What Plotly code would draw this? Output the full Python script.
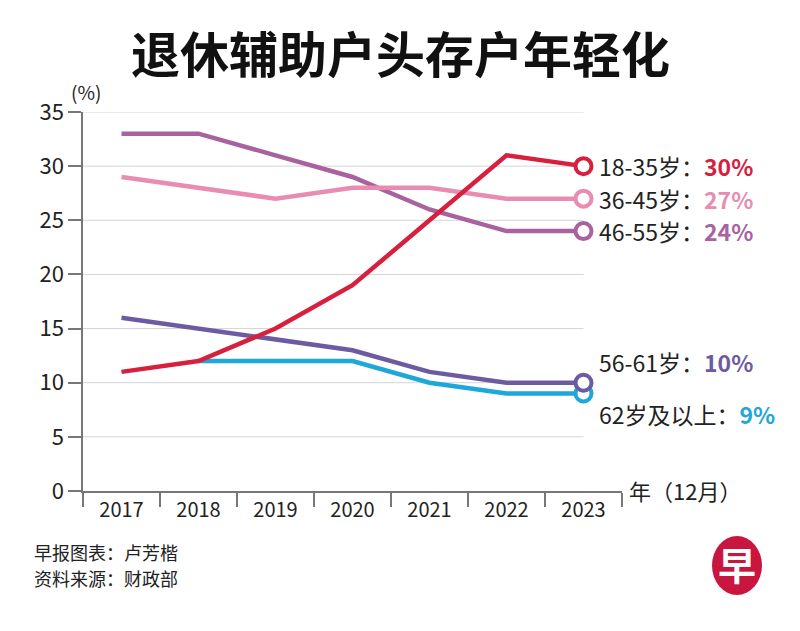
import plotly.graph_objects as go

years = ["2017", "2018", "2019", "2020", "2021", "2022", "2023"]
age_18_35 = [11, 12, 15, 19, 25, 31, 30]
age_36_45 = [29, 28, 27, 28, 28, 27, 27]
age_46_55 = [33, 33, 31, 29, 26, 24, 24]
age_56_61 = [16, 15, 14, 13, 11, 10, 10]
age_62_up = [None, 12, 12, 12, 10, 9, 9]

series = [
    ("62岁及以上", age_62_up, "#1ea7d9", -20),
    ("56-61岁", age_56_61, "#6c5ba0", 21),
    ("46-55岁", age_46_55, "#a8639f", 0),
    ("36-45岁", age_36_45, "#e88db1", 0),
    ("18-35岁", age_18_35, "#d7203e", 0),
]

y_ticks = [0, 5, 10, 15, 20, 25, 30, 35]
FONT = "Noto Sans CJK SC"

# plot area in page pixels: x 83..622, y 112..491 (page has 8px body offset)
PX0, PX1, PY0, PY1 = 83, 622, 112, 491


def px(x):
    return (x - PX0) / (PX1 - PX0)


def py(y):
    return (PY1 - y) / (PY1 - PY0)


fig = go.Figure()

for name, vals, color, _ in series:
    fig.add_trace(go.Scatter(
        x=years, y=vals, mode="lines", name=name,
        line=dict(color=color, width=4.5), connectgaps=False,
        hoverinfo="skip", showlegend=False,
    ))
    fig.add_trace(go.Scatter(
        x=[years[-1]], y=[vals[-1]], mode="markers",
        marker=dict(size=16, color="white", line=dict(color=color, width=4)),
        hoverinfo="skip", showlegend=False,
    ))

shapes = []
for t in y_ticks[1:]:
    shapes.append(dict(type="line", xref="x", yref="y", x0=-0.5, x1=6, y0=t, y1=t,
                       line=dict(color="#d5d5d5", width=1), layer="below"))
# x axis line extension to the left
shapes.append(dict(type="line", xref="paper", yref="y", x0=px(70), x1=0, y0=0, y1=0,
                   line=dict(color="#777", width=1.5)))
# logo circle
shapes.append(dict(type="circle", xref="paper", yref="paper",
                   x0=px(712), x1=px(762), y0=py(595), y1=py(536),
                   fillcolor="#c8163e", line=dict(width=0)))

annotations = []
for name, vals, color, yshift in series:
    annotations.append(dict(
        x=6, y=vals[-1], xref="x", yref="y", xanchor="left", yanchor="middle",
        xshift=13, yshift=yshift, showarrow=False,
        text=f"{name}：<b><span style='color:{color}'>{vals[-1]}%</span></b>",
        font=dict(family=FONT, size=23, color="#222"),
    ))

annotations += [
    dict(x=px(400), y=py(52), xref="paper", yref="paper", xanchor="center", yanchor="middle",
         text="<b>退休辅助户头存户年轻化</b>",
         showarrow=False, font=dict(family=FONT, size=49, color="#111")),
    dict(x=px(86), y=py(91), xref="paper", yref="paper", xanchor="center", yanchor="middle",
         text="(%)", showarrow=False, font=dict(family=FONT, size=19, color="#222")),
    dict(x=px(627), y=py(490), xref="paper", yref="paper", xanchor="left", yanchor="middle",
         text="年（12月）", showarrow=False, font=dict(family=FONT, size=22, color="#222")),
    dict(x=px(32), y=py(552), xref="paper", yref="paper", xanchor="left", yanchor="middle",
         text="早报图表：卢芳楷", showarrow=False, font=dict(family=FONT, size=18, color="#222")),
    dict(x=px(32), y=py(578), xref="paper", yref="paper", xanchor="left", yanchor="middle",
         text="资料来源：财政部", showarrow=False, font=dict(family=FONT, size=18, color="#222")),
    dict(x=px(737), y=py(563), xref="paper", yref="paper", xanchor="center", yanchor="middle",
         text="<b>早</b>", showarrow=False, font=dict(family=FONT, size=38, color="white")),
]

fig.update_layout(
    width=792, height=623,
    margin=dict(l=75, r=178, t=104, b=140, pad=0),
    paper_bgcolor="white", plot_bgcolor="white",
    shapes=shapes, annotations=annotations,
    xaxis=dict(
        type="category", range=[-0.5, 6.5], tickson="boundaries",
        ticks="outside", ticklen=14, tickcolor="#777", tickwidth=1.5,
        showline=True, linecolor="#777", linewidth=1.5, showgrid=False,
        tickfont=dict(family="Liberation Sans Narrow, " + FONT, size=20, color="#222"),
        zeroline=False, automargin=False,
    ),
    yaxis=dict(
        range=[0, 35], tickvals=y_ticks, ticks="outside", ticklen=13,
        tickcolor="#777", tickwidth=1.5, showline=True, linecolor="#777", linewidth=1.5,
        showgrid=False, zeroline=False, automargin=False,
        tickfont=dict(family=FONT, size=22, color="#222"),
    ),
)

fig.write_html("out.html")
